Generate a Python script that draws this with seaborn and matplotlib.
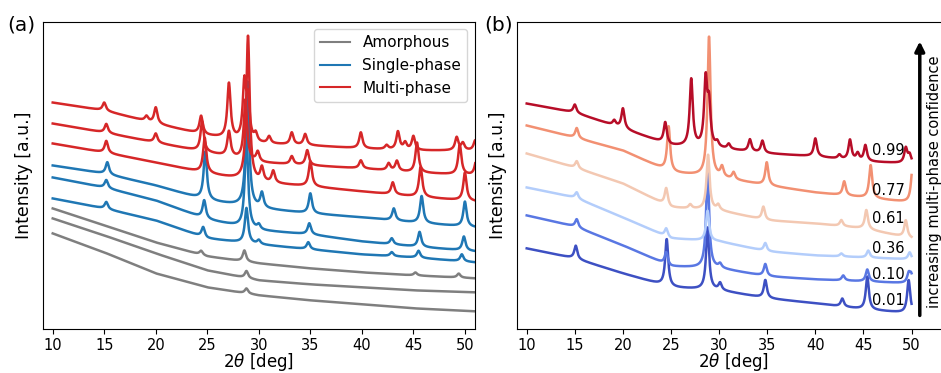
import numpy as np
import matplotlib
matplotlib.use("Agg")
import matplotlib.pyplot as plt
import seaborn as sns

# background levels read at these 2theta positions
bg_x_a = [10, 15, 20, 25, 30, 35, 40, 45, 51]
bg_x_b = [10, 15, 20, 25, 30, 35, 40, 45, 50]

# ---- panel (a), bottom curve first ----
amor1_bg = [96, 77, 56, 42, 34, 29, 25, 21, 18]
amor1_pk = [(28.8, 5)]
amor2_bg = [111, 94, 76, 59, 49, 45, 42, 39, 37]
amor2_pk = [(28.8, 7)]
amor3_bg = [121, 104, 87, 73, 66, 61, 57, 54, 51]
amor3_pk = [(24.4, 4), (28.6, 11), (45.2, 3), (49.4, 4)]

single1_bg = [131, 121, 109, 91, 85, 80, 75, 72, 67]
single1_pk = [(15.2, 7), (24.6, 10), (28.8, 35), (30.0, 4), (34.8, 7),
              (42.9, 4), (45.5, 7), (49.7, 7)]
single2_bg = [152, 142, 129, 110, 99, 95, 88, 83, 78]
single2_pk = [(15.2, 8), (24.7, 18), (28.8, 90), (30.0, 5), (34.9, 11),
              (42.9, 6), (45.6, 15), (49.9, 14)]
single3_bg = [164, 156, 144, 129, 121, 116, 112, 107, 102]
single3_pk = [(15.3, 12), (24.8, 48), (28.9, 125), (30.3, 15), (35.0, 20),
              (43.1, 12), (45.8, 27), (50.0, 25)]

multi1_bg = [186, 177, 167, 156, 147, 143, 138, 133, 128]
multi1_pk = [(15.2, 12), (24.75, 35), (28.95, 145), (30.3, 14), (31.4, 12),
             (35.0, 25), (43.0, 12), (45.7, 30), (50.0, 28)]
multi2_bg = [206, 197, 187, 177, 167, 164, 161, 157, 154]
multi2_pk = [(15.2, 9), (20.0, 9), (24.5, 30), (27.1, 25), (28.7, 60),
             (29.9, 10), (33.2, 8), (34.7, 15), (39.9, 8), (42.6, 7),
             (43.4, 10), (45.35, 30), (49.5, 30), (51.1, 15)]
multi3_bg = [227, 219, 206, 194, 186, 184, 181, 179, 179]
multi3_pk = [(15.0, 8), (19.1, 5), (20.0, 16), (24.4, 18), (27.1, 55),
             (28.6, 56), (28.95, 38), (29.7, 8), (31.0, 7), (33.2, 12),
             (34.5, 11), (39.9, 16), (42.4, 4), (43.5, 18), (44.2, 7),
             (45.0, 14), (49.2, 13), (49.8, 7), (51.0, 10)]

# ---- panel (b), multi-phase confidence, bottom curve first ----
conf = [0.01, 0.10, 0.36, 0.61, 0.77, 0.99]
c001_bg = [81, 71, 56, 42, 39, 31, 26, 20, 16]
c001_pk = [(15.1, 13), (24.55, 47), (28.8, 62), (30.1, 7), (34.8, 18),
           (42.8, 8), (45.4, 33), (49.7, 33)]
c010_bg = [114, 103, 84, 63, 61, 53, 50, 48, 46]
c010_pk = [(15.2, 8), (24.5, 12), (28.8, 95), (30.1, 4), (34.8, 12),
           (42.9, 5), (45.4, 12), (49.7, 9), (49.95, 8)]
c036_bg = [142, 132, 112, 91, 88, 78, 74, 72, 70]
c036_pk = [(15.2, 6), (24.5, 8), (28.8, 30), (34.8, 8), (42.7, 3),
           (45.5, 7), (49.8, 7)]
c061_bg = [176, 162, 146, 122, 119, 109, 106, 101, 91]
c061_pk = [(15.2, 7), (24.5, 17), (27.0, 4), (28.85, 55), (29.9, 5),
           (34.6, 13), (42.7, 6), (45.3, 19), (49.4, 17)]
c077_bg = [204, 192, 179, 157, 152, 144, 137, 132, 127]
c077_pk = [(15.2, 10), (24.75, 45), (28.95, 140), (30.3, 10), (31.5, 7),
           (34.95, 23), (43.0, 14), (45.75, 33), (50.1, 35)]
c099_bg = [226, 217, 201, 184, 181, 176, 173, 168, 166]
c099_pk = [(15.0, 8), (19.1, 5), (20.0, 20), (24.4, 21), (27.1, 67),
           (28.6, 65), (28.95, 40), (29.8, 5), (31.0, 5), (33.2, 12),
           (34.5, 12), (40.0, 18), (42.5, 4), (43.6, 20), (44.4, 7),
           (45.2, 16), (49.4, 15), (49.8, 8)]
label_x = 47.6
label_y = [29, 55, 81, 111, 139, 179]


def pattern(bg_x, bg, peaks, x_end):
    x = np.arange(10, x_end + 1e-6, 0.02)
    y = np.interp(x, bg_x, bg)
    for p, h in peaks:
        y = y + h / (1 + ((x - p) / 0.19) ** 2)
    return x, y


fig = plt.figure(figsize=(9.41, 3.73), dpi=100)
ax1 = fig.add_axes([0.0454, 0.1172, 0.4594, 0.8247])
ax2 = fig.add_axes([0.5491, 0.1172, 0.4601, 0.8247])

gray, blue, red = "#7f7f7f", "#1f77b4", "#d62728"
groups = [
    (gray, "Amorphous", [(amor1_bg, amor1_pk), (amor2_bg, amor2_pk), (amor3_bg, amor3_pk)]),
    (blue, "Single-phase", [(single1_bg, single1_pk), (single2_bg, single2_pk), (single3_bg, single3_pk)]),
    (red, "Multi-phase", [(multi1_bg, multi1_pk), (multi2_bg, multi2_pk), (multi3_bg, multi3_pk)]),
]
for col, name, curves in groups:
    for i, (bg, pk) in enumerate(curves):
        x, y = pattern(bg_x_a, bg, pk, 51)
        sns.lineplot(x=x, y=y, color=col, lw=1.8, ax=ax1, estimator=None,
                     label=name if i == 0 else None)
leg = ax1.legend(loc="upper right", fontsize=11)
for h in leg.get_lines():
    h.set_linewidth(1.5)

cmap = sns.color_palette("coolwarm", as_cmap=True)
curves_b = [(c001_bg, c001_pk), (c010_bg, c010_pk), (c036_bg, c036_pk),
            (c061_bg, c061_pk), (c077_bg, c077_pk), (c099_bg, c099_pk)]
for v, (bg, pk), ly in zip(conf, curves_b, label_y):
    x, y = pattern(bg_x_b, bg, pk, 50)
    sns.lineplot(x=x, y=y, color=cmap(v), lw=1.8, ax=ax2, estimator=None)
    ax2.text(label_x, ly, f"{v:.2f}", fontsize=10.5, ha="center", va="center")

ax2.annotate("", xy=(0.931, 0.945), xytext=(0.931, 0.036), xycoords="axes fraction",
             arrowprops=dict(arrowstyle="-|>", lw=2.5, color="black", mutation_scale=14))
ax2.text(0.966, 0.479, "increasing multi-phase confidence", transform=ax2.transAxes,
         rotation=90, ha="center", va="center", fontsize=10.5)

ax1.set_xlim(9.03, 50.98)
ax2.set_xlim(8.96, 53.96)
for ax in (ax1, ax2):
    ax.set_ylim(0, 308)
    ax.set_yticks([])
    ax.set_xticks(range(10, 51, 5))
    ax.tick_params(labelsize=10.5, pad=2.5)
    ax.set_xlabel(r"2$\theta$ [deg]", fontsize=12, labelpad=-1)
    ax.set_ylabel("Intensity [a.u.]", fontsize=12.5, labelpad=7)

fig.text(0.0074, 0.933, "(a)", fontsize=14.5, ha="left", va="center")
fig.text(0.515, 0.933, "(b)", fontsize=14.5, ha="left", va="center")

fig.savefig("out.png", dpi=100)
